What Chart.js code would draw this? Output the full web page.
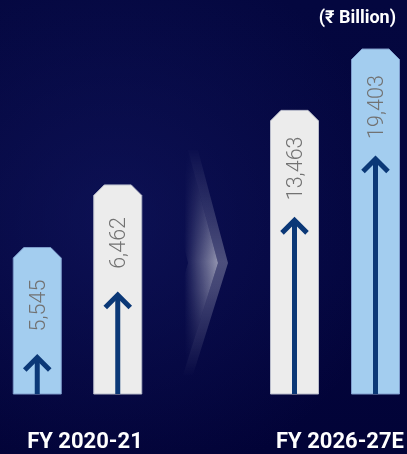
<!DOCTYPE html>
<html>
<head>
<meta charset="utf-8">
<script src="https://cdn.jsdelivr.net/npm/chart.js@4.4.1/dist/chart.umd.min.js"></script>
<style>
  html, body { margin: 0; padding: 0; width: 407px; height: 454px; overflow: hidden; }
  body {
    position: relative;
    font-family: Roboto, "Noto Sans", "DejaVu Sans", sans-serif;
    background:
      radial-gradient(ellipse 70% 60% at 28% 48%, rgba(22,28,105,0.5) 0%, rgba(22,28,105,0) 100%),
      linear-gradient(180deg, #04073f 0%, #03053d 60%, #020337 100%);
  }
  #chev { position: absolute; left: 0; top: 0; }
  #g1 { position: absolute; left: -3px; top: 0; width: 161px; height: 454px; }
  #g2 { position: absolute; left: 254px; top: 0; width: 162px; height: 454px; }
  .txt { position: absolute; color: #ffffff; font-weight: 700; white-space: nowrap; }
  .cat { font-size: 22px; line-height: 26px; top: 428px; transform: translateX(-50%); }
  #unit { font-size: 18px; line-height: 22px; top: 6px; right: 11px; }
</style>
</head>
<body>
<svg id="chev" width="407" height="454" xmlns="http://www.w3.org/2000/svg">
  <defs>
    <linearGradient id="vfade" x1="0" y1="145" x2="0" y2="378" gradientUnits="userSpaceOnUse">
      <stop offset="0" stop-color="#fff" stop-opacity="0"/>
      <stop offset="0.5" stop-color="#fff" stop-opacity="1"/>
      <stop offset="0.62" stop-color="#fff" stop-opacity="0.85"/>
      <stop offset="1" stop-color="#fff" stop-opacity="0"/>
    </linearGradient>
    <mask id="m"><rect x="0" y="0" width="407" height="454" fill="url(#vfade)"/></mask>
    <linearGradient id="hglow" x1="184" y1="0" x2="219" y2="0" gradientUnits="userSpaceOnUse">
      <stop offset="0" stop-color="#fff" stop-opacity="0"/>
      <stop offset="1" stop-color="#fff" stop-opacity="0.58"/>
    </linearGradient>
  </defs>
  <g mask="url(#m)">
    <polygon points="160,150 188,150 218,263 183,375 155,375 188,263" fill="url(#hglow)"/>
    <polygon points="188,150 198,150 228,263 193,375 183,375 218,263" fill="#ffffff" fill-opacity="0.28"/>
  </g>
</svg>
<div id="g1"><canvas id="c1"></canvas></div>
<div id="g2"><canvas id="c2"></canvas></div>
<div id="unit" class="txt"></div>
<div id="cat1" class="txt cat" style="left:85px"></div>
<div id="cat2" class="txt cat" style="left:340px"></div>
<script>
// ---- data ----
const categories = ['FY 2020-21', 'FY 2026-27E'];
const fy2021Values = [5545, 6462];
const fy2027Values = [13463, 19403];
const unitLabel = '(₹ Billion)';

// ---- styling ----
const BLUE = '#a3cdef', WHITE = '#ececec';
const BLUE_EDGE = '#7e9ccc', WHITE_EDGE = '#b9bccb';
const ARROW = '#0b3877';
const CHAMFER = 10.5;
const LABEL_CENTER_OFFSET = 58;   // px below bar top
const ARROW_TIP_OFFSET = 110;     // px below bar top

document.getElementById('unit').textContent = unitLabel;
document.getElementById('cat1').textContent = categories[0];
document.getElementById('cat2').textContent = categories[1];

const fmt = v => v.toLocaleString('en-US');

const decoratedBars = {
  id: 'decoratedBars',
  beforeDatasetDraw() { return false; },
  afterDatasetsDraw(chart) {
    const ctx = chart.ctx;
    const meta = chart.getDatasetMeta(0);
    const values = chart.data.datasets[0].data;
    meta.data.forEach((el, i) => {
      const p = el.getProps(['x', 'y', 'base', 'width'], true);
      const l = p.x - p.width / 2, r = p.x + p.width / 2;
      ctx.save();
      // chamfered bar body
      ctx.beginPath();
      ctx.moveTo(l, p.base);
      ctx.lineTo(l, p.y + CHAMFER);
      ctx.lineTo(l + CHAMFER, p.y);
      ctx.lineTo(r - CHAMFER, p.y);
      ctx.lineTo(r, p.y + CHAMFER);
      ctx.lineTo(r, p.base);
      ctx.closePath();
      ctx.fillStyle = el.options.backgroundColor;
      ctx.fill();
      ctx.lineWidth = 1;
      ctx.strokeStyle = el.options.borderColor;
      ctx.stroke();
      // arrow
      const tip = p.y + ARROW_TIP_OFFSET;
      ctx.strokeStyle = ARROW;
      ctx.lineWidth = 5;
      ctx.lineCap = 'butt';
      ctx.lineJoin = 'miter';
      ctx.beginPath();
      ctx.moveTo(p.x, p.base);
      ctx.lineTo(p.x, tip + 2);
      ctx.stroke();
      ctx.beginPath();
      ctx.moveTo(p.x - 12.5, tip + 12.5);
      ctx.lineTo(p.x, tip);
      ctx.lineTo(p.x + 12.5, tip + 12.5);
      ctx.stroke();
      // rotated value label
      ctx.translate(p.x + 7.5, p.y + LABEL_CENTER_OFFSET);
      ctx.rotate(-Math.PI / 2);
      ctx.font = '300 21.5px Roboto, "Noto Sans", sans-serif';
      ctx.fillStyle = '#727272';
      ctx.textAlign = 'center';
      ctx.textBaseline = 'alphabetic';
      ctx.fillText(fmt(values[i]), 0, 0);
      ctx.restore();
    });
  }
};

function makeChart(id, values, colors, edges, yMin, yMax) {
  return new Chart(document.getElementById(id), {
    type: 'bar',
    data: {
      labels: values.map((v, i) => 'bar ' + (i + 1)),
      datasets: [{
        data: values,
        backgroundColor: colors,
        borderColor: edges,
        borderWidth: 1,
        base: yMin,
        barThickness: 48
      }]
    },
    options: {
      responsive: true,
      maintainAspectRatio: false,
      animation: false,
      layout: { padding: { top: 0, right: 0, bottom: 60, left: 0 } },
      plugins: { legend: { display: false }, tooltip: { enabled: false }, title: { display: false } },
      scales: {
        x: { display: false, offset: true },
        y: { display: false, min: yMin, max: yMax }
      }
    },
    plugins: [decoratedBars]
  });
}

makeChart('c1', fy2021Values, [BLUE, WHITE], [BLUE_EDGE, WHITE_EDGE], 3400, 9170);
makeChart('c2', fy2027Values, [WHITE, BLUE], [WHITE_EDGE, BLUE_EDGE], -14000, 24150);
</script>
</body>
</html>
